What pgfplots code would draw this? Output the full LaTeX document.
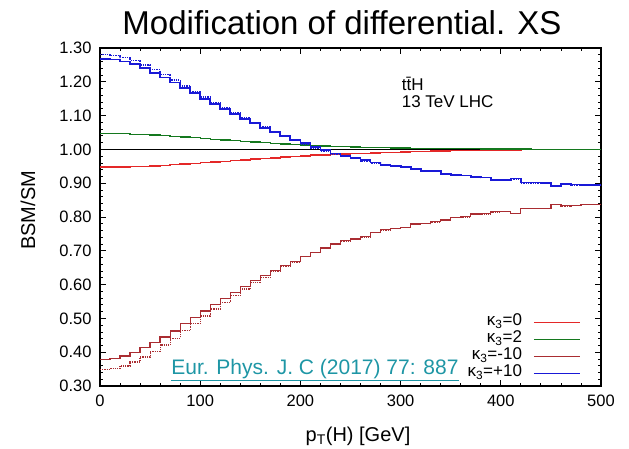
\documentclass[border=0pt]{standalone}
\usepackage{fontspec}
\setmainfont{Liberation Sans}
\usepackage{pgfplots}
\usepackage{pgfplotstable}
\pgfplotsset{compat=1.18}
\definecolor{kred}{RGB}{228,40,40}
\definecolor{kgreen}{RGB}{20,120,30}
\definecolor{kdred}{RGB}{170,45,50}
\definecolor{kblue}{RGB}{25,25,215}
\definecolor{cite}{RGB}{30,150,165}
\pgfplotstableread{
x blue bdot red green dred ddot
0 1.268 1.280 0.948 1.047 0.379 0.349
10 1.266 1.278 0.948 1.047 0.381 0.351
20 1.260 1.271 0.948 1.046 0.389 0.359
30 1.252 1.262 0.949 1.045 0.399 0.371
40 1.240 1.250 0.950 1.044 0.414 0.386
50 1.227 1.236 0.951 1.043 0.428 0.402
60 1.213 1.221 0.953 1.041 0.445 0.421
70 1.198 1.205 0.955 1.039 0.463 0.441
80 1.182 1.188 0.957 1.037 0.484 0.464
90 1.166 1.172 0.959 1.035 0.502 0.484
100 1.150 1.155 0.961 1.033 0.522 0.507
110 1.134 1.138 0.963 1.030 0.541 0.528
120 1.119 1.123 0.965 1.028 0.558 0.547
130 1.105 1.108 0.967 1.026 0.576 0.567
140 1.090 1.093 0.969 1.024 0.595 0.587
150 1.077 1.079 0.971 1.022 0.613 0.607
160 1.064 1.066 0.973 1.020 0.626 0.621
170 1.051 1.052 0.975 1.018 0.642 0.638
180 1.039 1.040 0.977 1.016 0.656 0.653
190 1.028 1.028 0.979 1.014 0.668 0.666
200 1.018 1.016 0.981 1.013 0.683 0.682
210 1.006 1.004 0.983 1.011 0.696 0.695
220 0.998 0.995 0.984 1.010 0.708 0.707
230 0.988 0.986 0.985 1.009 0.720 0.719
240 0.980 0.978 0.986 1.008 0.730 0.729
250 0.975 0.973 0.987 1.007 0.735 0.734
260 0.968 0.966 0.988 1.006 0.742 0.741
270 0.961 0.960 0.989 1.005 0.754 0.753
280 0.953 0.952 0.990 1.005 0.762 0.761
290 0.950 0.949 0.991 1.004 0.767 0.766
300 0.947 0.946 0.992 1.004 0.769 0.768
310 0.943 0.942 0.993 1.003 0.779 0.778
320 0.937 0.936 0.994 1.003 0.781 0.780
330 0.935 0.934 0.995 1.003 0.786 0.785
340 0.928 0.927 0.995 1.002 0.791 0.790
350 0.924 0.923 0.996 1.002 0.799 0.798
360 0.923 0.922 0.996 1.002 0.801 0.800
370 0.919 0.918 0.997 1.002 0.809 0.808
380 0.917 0.916 0.997 1.001 0.810 0.809
390 0.909 0.909 0.998 1.001 0.816 0.815
400 0.909 0.908 0.998 1.001 0.817 0.816
410 0.914 0.912 0.998 1.001 0.811 0.810
420 0.902 0.901 0.999 1.001 0.826 0.825
430 0.902 0.901 0.999 1.000 0.826 0.825
440 0.901 0.900 0.999 1.000 0.825 0.824
450 0.892 0.892 0.999 1.000 0.838 0.837
460 0.897 0.896 1.000 1.000 0.833 0.832
470 0.896 0.895 1.000 1.000 0.834 0.833
480 0.894 0.893 1.000 1.000 0.837 0.836
490 0.894 0.893 1.000 1.000 0.837 0.836
500 0.894 0.893 1.000 1.000 0.837 0.836
}\datatable
\begin{document}
\begin{tikzpicture}[x=1pt,y=1pt]
\useasboundingbox (0,0) rectangle (629,449);
\begin{axis}[
  at={(100pt,63pt)}, anchor=south west,
  width=501pt, height=338pt, scale only axis,
  xmin=0, xmax=500, ymin=0.3, ymax=1.3,
  xtick={0,100,200,300,400,500},
  ytick={0.3,0.4,0.5,0.6,0.7,0.8,0.9,1.0,1.1,1.2,1.3},
  minor x tick num=4, minor y tick num=4,
  tick align=inside,
  major tick length=6pt, minor tick length=3pt,
  axis line style={line width=1.3pt},
  every tick/.style={black, line width=0.8pt},
  ticklabel style={font=\fontsize{16.5}{19}\selectfont},
  /pgf/number format/assume math mode=true,
  yticklabel style={/pgf/number format/fixed, /pgf/number format/fixed zerofill, /pgf/number format/precision=2, xshift=-5pt},
  xticklabel style={yshift=-5pt},
  xlabel={p\textsubscript{T}(H) [GeV]},
  xlabel style={font=\fontsize{20}{24}\selectfont, at={(axis description cs:0.515,-0.15)}, anchor=center},
  ylabel={BSM/SM},
  ylabel style={font=\fontsize{20}{24}\selectfont, at={(axis description cs:-0.144,0.52)}, anchor=center},
  legend plot pos=right,
  legend cell align=right,
  legend image code/.code={\draw[#1] (0pt,0pt) -- (46pt,0pt);},
  legend style={draw=none, fill=none, font=\fontsize{17}{17}\selectfont,
    at={(rel axis cs:0.960,0.011)}, anchor=south east,
    inner sep=0pt, row sep=0pt, column sep=11pt,
    nodes={inner sep=0pt, text height=11.8pt, text depth=5.3pt}},
]
\addplot[black, line width=0.8pt, forget plot] coordinates {(0,1) (500,1)};
\addplot[kred, line width=1.4pt, const plot] table[x=x, y=red] {\datatable};
\addlegendentry{κ\textsubscript{3}=0}
\addplot[kgreen, line width=1.3pt, const plot] table[x=x, y=green] {\datatable};
\addlegendentry{κ\textsubscript{3}=2}
\addplot[kdred, line width=1.25pt, const plot] table[x=x, y=dred] {\datatable};
\addlegendentry{κ\textsubscript{3}=-10}
\addplot[kblue, line width=1.8pt, const plot] table[x=x, y=blue] {\datatable};
\addlegendentry{κ\textsubscript{3}=+10}
\addplot[kdred, line width=1.2pt, densely dotted, const plot, forget plot] table[x=x, y=ddot] {\datatable};
\addplot[kblue, line width=1.3pt, densely dotted, const plot, forget plot] table[x=x, y=bdot] {\datatable};
\node[anchor=west, font=\fontsize{17}{20}\selectfont, inner sep=0pt] at (axis cs:301,1.193) {t\={t}H};
\node[anchor=west, font=\fontsize{17}{20}\selectfont, inner sep=0pt] at (axis cs:301,1.140) {13 TeV LHC};
\node[font=\fontsize{21}{24}\selectfont, text=cite, inner sep=0pt] at (axis cs:214.5,0.347) {\underline{Eur. Phys. J. C (2017) 77: 887}};
\end{axis}
\node[font=\fontsize{33}{38}\selectfont, inner sep=0pt] at (342,426) {Modification of differential. XS};
\end{tikzpicture}
\end{document}
